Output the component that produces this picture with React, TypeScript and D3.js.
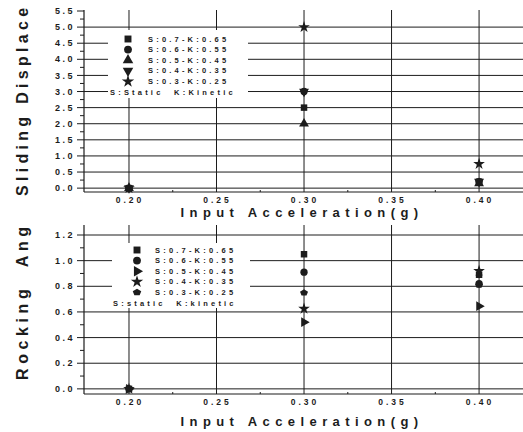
import * as d3 from "d3";

// input acceleration levels (g)
const accel = [0.2, 0.3, 0.4];
const xTicks = [0.2, 0.25, 0.3, 0.35, 0.4];
const xMinor = [0.225, 0.275, 0.325, 0.375];

// sliding displacement, one list per friction pair
const slideLabels = ["S:0.7-K:0.65", "S:0.6-K:0.55", "S:0.5-K:0.45", "S:0.4-K:0.35", "S:0.3-K:0.25"];
const slide07 = [0, 2.5, 0.2];
const slide06 = [0, 3.0, 0.2];
const slide05 = [0, 2.0, 0.15];
const slide04 = [0, 3.0, 0.2];
const slide03 = [0, 5.0, 0.75];
const slideTicks = [0, 0.5, 1, 1.5, 2, 2.5, 3, 3.5, 4, 4.5, 5, 5.5];

// rocking angle
const rockLabels = ["S:0.7-K:0.65", "S:0.6-K:0.55", "S:0.5-K:0.45", "S:0.4-K:0.35", "S:0.3-K:0.25"];
const rock07 = [0, 1.05, 0.89];
const rock06 = [0, 0.91, 0.82];
const rock05 = [0, 0.52, 0.645];
const rock04 = [0, 0.625, 0.92];
const rock03 = [0, 0.75, 0.81];
const rockTicks = [0, 0.2, 0.4, 0.6, 0.8, 1.0, 1.2];

const INK = "#1c1c1c";
const FONT = "'Liberation Sans', Arial, sans-serif";

const pentagon = {
  draw(ctx, size) {
    const r = Math.sqrt(size / 2.38);
    for (let i = 0; i < 5; i++) {
      const a = -Math.PI / 2 + (i * 2 * Math.PI) / 5;
      const px = r * Math.cos(a), py = r * Math.sin(a) * 0.8;
      if (i === 0) ctx.moveTo(px, py);
      else ctx.lineTo(px, py);
    }
    ctx.closePath();
  },
};

const shapes = {
  square: { type: d3.symbolSquare, rot: 0 },
  circle: { type: d3.symbolCircle, rot: 0 },
  up: { type: d3.symbolTriangle, rot: 0 },
  down: { type: d3.symbolTriangle, rot: 180 },
  right: { type: d3.symbolTriangle, rot: 90 },
  star: { type: d3.symbolStar, rot: 0 },
  pent: { type: pentagon, rot: 0 },
};

function Marker({ shape, x, y, size }) {
  const s = shapes[shape];
  const d = d3.symbol().type(s.type).size(size)();
  return <path d={d} transform={`translate(${x},${y}) rotate(${s.rot})`} fill={INK} />;
}

function Panel({ yDomain, yRange, plotTop, ticks, gridMax, minorStep, fmt, title, legend, series }) {
  const x = d3.scaleLinear().domain([0.1743, 0.4251]).range([84, 523]);
  const y = d3.scaleLinear().domain(yDomain).range(yRange);
  const axisY = yRange[0];
  const minor = d3.range(ticks[0] + minorStep, ticks[ticks.length - 1], minorStep * 2);
  const grid = ticks.filter((t) => t <= gridMax + 1e-9);
  const lb = legend.box;
  return (
    <g>
      {grid.map((t) => (
        <line key={"g" + t} x1={84} x2={523} y1={y(t)} y2={y(t)} stroke={INK} strokeWidth={1} />
      ))}
      {xTicks.map((t) => (
        <line key={"v" + t} x1={x(t)} x2={x(t)} y1={plotTop} y2={axisY} stroke={INK} strokeWidth={1} />
      ))}
      <rect x={lb[0]} y={lb[1]} width={lb[2] - lb[0]} height={lb[3] - lb[1]} fill="#fff" />
      <line x1={84} x2={523} y1={axisY} y2={axisY} stroke={INK} strokeWidth={1.2} />
      <line x1={84} x2={84} y1={plotTop} y2={axisY} stroke={INK} strokeWidth={1.2} />
      {ticks.map((t) => (
        <g key={"t" + t}>
          <line x1={77} x2={84} y1={y(t)} y2={y(t)} stroke={INK} />
          <text x={75} y={y(t)} dy="0.35em" textAnchor="end" fontSize={9} fontWeight="bold" letterSpacing={2.5} fill={INK}>
            {fmt(t)}
          </text>
        </g>
      ))}
      {minor.map((t) => (
        <line key={"m" + t} x1={80} x2={84} y1={y(t)} y2={y(t)} stroke={INK} />
      ))}
      {xMinor.map((t) => (
        <line key={"xm" + t} x1={x(t)} x2={x(t)} y1={axisY - 2} y2={axisY} stroke={INK} />
      ))}
      {xTicks.map((t) => (
        <text key={"xl" + t} x={x(t) + 1} y={axisY + 11} textAnchor="middle" fontSize={8.5} fontWeight="bold" letterSpacing={3} fill={INK}>
          {d3.format(".2f")(t)}
        </text>
      ))}
      <text x={302} y={axisY + title.xOff} textAnchor="middle" fontSize={13} fontWeight="bold" letterSpacing={5.4} fill={INK}>
        Input Acceleration(g)
      </text>
      <text transform={`translate(28,${title.start}) rotate(-90)`} fontSize={16} fontWeight="bold" letterSpacing={title.spacing} fill={INK} style={{ whiteSpace: "pre" }}>
        {title.text}
      </text>
      {series.map((s) =>
        accel.map((a, i) => <Marker key={s.shape + i} shape={s.shape} x={x(a)} y={y(s.values[i])} size={42} />)
      )}
      {series.map((s, i) => (
        <g key={"lg" + i}>
          <Marker shape={s.shape} x={legend.sx} y={legend.y0 + i * legend.dy} size={48} />
          <text x={legend.tx} y={legend.y0 + i * legend.dy} dy="0.35em" fontSize={7.5} fontWeight="bold" letterSpacing={3.2} fill={INK}>
            {s.label}
          </text>
        </g>
      ))}
      <text x={legend.nx} y={legend.y0 + 5 * legend.dy} dy="0.35em" fontSize={7.5} fontWeight="bold" letterSpacing={3.2} fill={INK} style={{ whiteSpace: "pre" }}>
        {legend.note}
      </text>
    </g>
  );
}

export default function App() {
  const slideSeries = [
    { shape: "square", values: slide07, label: slideLabels[0] },
    { shape: "circle", values: slide06, label: slideLabels[1] },
    { shape: "up", values: slide05, label: slideLabels[2] },
    { shape: "down", values: slide04, label: slideLabels[3] },
    { shape: "star", values: slide03, label: slideLabels[4] },
  ];
  const rockSeries = [
    { shape: "square", values: rock07, label: rockLabels[0] },
    { shape: "circle", values: rock06, label: rockLabels[1] },
    { shape: "right", values: rock05, label: rockLabels[2] },
    { shape: "star", values: rock04, label: rockLabels[3] },
    { shape: "pent", values: rock03, label: rockLabels[4] },
  ];
  const fmt1 = d3.format(".1f");
  return (
    <svg width={523} height={432} style={{ position: "absolute", left: 0, top: 0, background: "#fff", fontFamily: FONT }}>
      <Panel
        yDomain={[-0.12, 5.5]}
        yRange={[192, 11]}
        plotTop={10}
        ticks={slideTicks}
        gridMax={5}
        minorStep={0.25}
        fmt={fmt1}
        title={{ text: "Sliding Displace", start: 196, spacing: 4.3, xOff: 25 }}
        legend={{ box: [108, 30, 248, 98], sx: 128, tx: 148, nx: 110, y0: 39, dy: 10.6, note: "S:Static  K:Kinetic" }}
        series={slideSeries}
      />
      <Panel
        yDomain={[-0.04, 1.2]}
        yRange={[394, 235]}
        plotTop={225}
        ticks={rockTicks}
        gridMax={1.2}
        minorStep={0.1}
        fmt={fmt1}
        title={{ text: "Rocking  Ang", start: 380, spacing: 4.6, xOff: 32 }}
        legend={{ box: [112, 243, 250, 308], sx: 137, tx: 155, nx: 113, y0: 250, dy: 10.6, note: "S:static  K:kinetic" }}
        series={rockSeries}
      />
    </svg>
  );
}
